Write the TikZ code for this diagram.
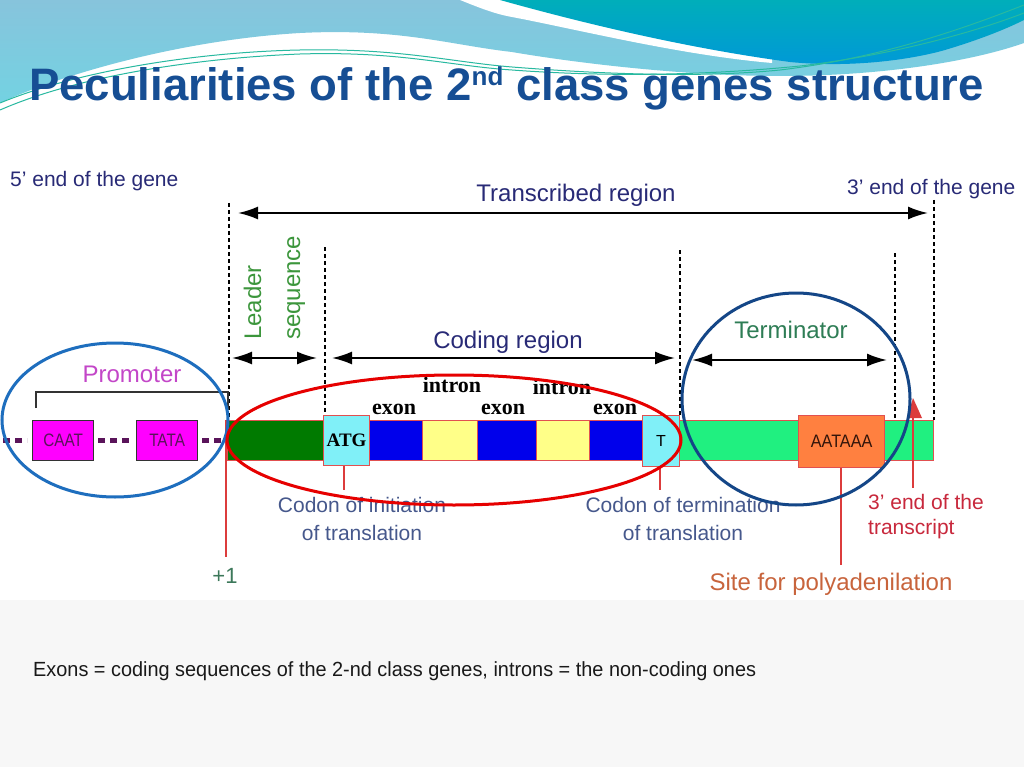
\documentclass[tikz,border=0pt]{standalone}
\usepackage{fontspec}
\setmainfont{Liberation Sans}
\newfontfamily\seriffont{Liberation Serif}
\usetikzlibrary{arrows.meta}
\definecolor{titleblue}{RGB}{22,78,148}
\definecolor{navy}{RGB}{40,42,118}
\definecolor{slate}{RGB}{70,88,140}
\definecolor{leadgreen}{RGB}{60,150,60}
\definecolor{termgreen}{RGB}{46,125,85}
\definecolor{promag}{RGB}{195,70,200}
\definecolor{plusgreen}{RGB}{60,120,90}
\definecolor{trred}{RGB}{200,40,60}
\definecolor{polyor}{RGB}{200,100,60}
\definecolor{leadseg}{RGB}{0,122,0}
\definecolor{atgcyan}{RGB}{128,240,248}
\definecolor{exonblue}{RGB}{0,0,235}
\definecolor{intronyel}{RGB}{255,255,136}
\definecolor{springg}{RGB}{32,240,128}
\definecolor{aorange}{RGB}{255,128,64}
\definecolor{boxred}{RGB}{225,80,80}
\definecolor{magbox}{RGB}{255,0,255}
\definecolor{magtext}{RGB}{90,20,90}
\definecolor{ellblue}{RGB}{30,110,190}
\definecolor{ellred}{RGB}{230,0,0}
\definecolor{ellnavy}{RGB}{20,70,135}
\definecolor{lightblA}{RGB}{135,196,220}
\definecolor{lightblB}{RGB}{115,210,226}
\definecolor{tealA}{RGB}{0,174,186}
\definecolor{blueB}{RGB}{0,152,216}
\definecolor{wavegreen}{RGB}{40,185,160}
\definecolor{pointred}{RGB}{220,60,60}
\begin{document}
\begin{tikzpicture}[x=1pt,y=-1pt,
  tip/.tip={Latex[length=20pt,width=13pt]},
  dimline/.style={line width=2pt, black, {tip}-{tip}},
  guide/.style={line width=1.8pt, black, dash pattern=on 4pt off 3pt},
  seg/.style={draw=boxred, line width=1pt, inner sep=0pt, minimum height=40pt, anchor=north west},
  tallbox/.style={draw=boxred, line width=1.2pt, inner sep=0pt, anchor=north west},
  pbox/.style={draw=black!80, line width=1.2pt, fill=magbox, inner sep=0pt, minimum width=61pt, minimum height=40pt, anchor=north west, text=magtext, font=\fontsize{18}{20}\selectfont},
  pdash/.style={line width=5pt, color=magtext, dash pattern=on 7pt off 5pt},
  pointer/.style={draw=pointred, line width=1.5pt},
  lbl/.style={inner sep=0pt, font=\fontsize{21}{28}\selectfont},
  biglbl/.style={inner sep=0pt, font=\fontsize{24}{28}\selectfont},
  serifb/.style={inner sep=0pt, font=\seriffont\bfseries\fontsize{22}{24}\selectfont},
  ring/.style={line width=3pt}
]
\useasboundingbox (0,0) rectangle (1024,767);
% background
\fill[white] (0,0) rectangle (1024,767);
\fill[black!3] (0,600) rectangle (1024,767);
\shade[top color=lightblA, bottom color=lightblB]
  (0,0) -- (1024,0) -- (1024,43)
  .. controls (970,62) and (880,76) .. (780,76)
  .. controls (680,76) and (570,62) .. (512,52)
  .. controls (450,45) and (400,28) .. (300,33)
  .. controls (180,40) and (60,75) .. (0,103) -- cycle;
\fill[white] (460,0) .. controls (480,8) and (495,14) .. (512,17)
  .. controls (580,30) and (680,55) .. (772,63) -- (772,0) -- cycle;
\shade[top color=tealA, bottom color=blueB]
  (500,0) .. controls (600,28) and (700,50) .. (790,62)
  .. controls (850,68) and (910,60) .. (945,50)
  .. controls (985,38) and (1010,27) .. (1024,20) -- (1024,0) -- cycle;
\draw[wavegreen, line width=1pt] (0,103) .. controls (80,70) and (200,52) .. (300,50)
  .. controls (400,48) and (450,62) .. (512,67)
  .. controls (600,74) and (700,78) .. (780,70)
  .. controls (880,58) and (960,30) .. (1024,5);
\draw[wavegreen, line width=1pt] (0,110) .. controls (80,75) and (200,58) .. (300,54)
  .. controls (400,51) and (450,66) .. (512,70)
  .. controls (620,78) and (720,74) .. (800,66)
  .. controls (900,54) and (980,30) .. (1024,13);
% title
\node[anchor=base west, inner sep=0pt, text=titleblue, font=\fontsize{45.5}{50}\selectfont\bfseries] (title) at (29,101)
  {Peculiarities of the 2\raisebox{15pt}{\fontsize{26}{28}\selectfont nd} class genes structure};
% top labels
\node[lbl, anchor=base west, text=navy] (fivep) at (10,187) {5’ end of the gene};
\node[lbl, anchor=base west, text=navy] (threep) at (847,195) {3’ end of the gene};
\node[biglbl, anchor=base, text=navy] (transcr) at (576,202) {Transcribed region};
\node[biglbl, anchor=base, text=navy] (codreg) at (508,348) {Coding region};
\node[biglbl, anchor=base, text=termgreen] (termlbl) at (791,338) {Terminator};
\node[biglbl, anchor=base, text=promag] (promlbl) at (132,382) {Promoter};
\node[biglbl, anchor=base west, rotate=90, text=leadgreen] (leader) at (261,340) {Leader};
\node[biglbl, anchor=base west, rotate=90, text=leadgreen] (sequ) at (300,340) {sequence};
% guides
\coordinate (g1t) at (229,203); \coordinate (g1b) at (229,420);
\coordinate (g2t) at (325,247); \coordinate (g2b) at (325,415);
\coordinate (g3t) at (680,250); \coordinate (g3b) at (680,415);
\coordinate (g4t) at (895,253); \coordinate (g4b) at (895,418);
\coordinate (g5t) at (934,200); \coordinate (g5b) at (934,420);
\draw[guide] (g1t) -- (g1b);
\draw[guide] (g2t) -- (g2b);
\draw[guide] (g3t) -- (g3b);
\draw[guide] (g4t) -- (g4b);
\draw[guide] (g5t) -- (g5b);
% dimension arrows
\coordinate (trL) at (238,213); \coordinate (trR) at (928,213);
\coordinate (leL) at (232,358); \coordinate (leR) at (317,358);
\coordinate (coL) at (332,358); \coordinate (coR) at (675,358);
\coordinate (teL) at (692,360); \coordinate (teR) at (887,360);
\draw[dimline] (trL) -- (trR);
\draw[dimline] (leL) -- (leR);
\draw[dimline] (coL) -- (coR);
\draw[dimline] (teL) -- (teR);
% promoter
\coordinate (brA) at (36,408); \coordinate (brB) at (36,392);
\coordinate (brC) at (228,392); \coordinate (brD) at (228,410);
\draw[black!80, line width=1.5pt] (brA) -- (brB) -- (brC) -- (brD);
\node[pbox] (caat) at (32,420) {\scalebox{0.85}[1]{CAAT}};
\node[pbox] (tata) at (136,420) {\scalebox{0.85}[1]{TATA}};
\coordinate (d1a) at (3,440); \coordinate (d1b) at (27,440);
\coordinate (d3a) at (202,440); \coordinate (d3b) at (222,440);
\draw[pdash] (d1a) -- (d1b);
\draw[pdash, shorten <=4pt, shorten >=6pt] (caat.east) -- (tata.west);
\draw[pdash] (d3a) -- (d3b);
% gene bar
\node[seg, fill=leadseg, minimum width=96pt] (lead) at (227,420) {};
\node[seg, fill=springg, minimum width=254pt] (tail) at (679,420) {};
\node[seg, fill=exonblue, minimum width=53pt] (ex1) at (369,420) {};
\node[seg, fill=intronyel, minimum width=55pt] (in1) at (422,420) {};
\node[seg, fill=exonblue, minimum width=59pt] (ex2) at (477,420) {};
\node[seg, fill=intronyel, minimum width=53pt] (in2) at (536,420) {};
\node[seg, fill=exonblue, minimum width=53pt] (ex3) at (589,420) {};
\node[tallbox, fill=atgcyan, minimum width=46pt, minimum height=50pt, font=\seriffont\bfseries\fontsize{19}{20}\selectfont] (atg) at (323,415) {ATG};
\node[tallbox, fill=atgcyan, minimum width=37pt, minimum height=51pt, font=\fontsize{16}{18}\selectfont] (stop) at (642,415) {T};
\node[tallbox, fill=aorange, minimum width=86pt, minimum height=52pt, text={rgb,255:red,50;green,20;blue,10}, font=\fontsize{18}{20}\selectfont] (aataaa) at (798,415) {\scalebox{0.9}[1]{AATAAA}};
% exon / intron labels
\node[serifb, anchor=base] (e1) at (394,414) {exon};
\node[serifb, anchor=base] (e2) at (503,414) {exon};
\node[serifb, anchor=base] (e3) at (615,414) {exon};
\node[serifb, anchor=base] (i1) at (452,392) {intron};
\node[serifb, anchor=base] (i2) at (562,394) {intron};
% flag at 3' end of transcript
\fill[pointred] (913,398) -- (922,418) -- (907,418) -- cycle;
% pointers
\coordinate (p1) at (226,557); \coordinate (p1t) at (226,420);
\coordinate (p2) at (344,490);
\coordinate (p3) at (660,490);
\coordinate (p4) at (841,565);
\coordinate (p5t) at (913,418); \coordinate (p5) at (913,488);
\draw[pointer] (p1t) -- (p1);
\draw[pointer] (atg.south -| p2) -- (p2);
\draw[pointer] (stop.south -| p3) -- (p3);
\draw[pointer] (aataaa.south -| p4) -- (p4);
\draw[pointer] (p5t) -- (p5);
% lower labels
\node[lbl, anchor=base, text=plusgreen, font=\fontsize{22}{24}\selectfont] (plus1) at (225,583) {+1};
\node[lbl, anchor=base, text=slate] (init1) at (362,512) {Codon of initiation};
\node[lbl, anchor=base, text=slate] (init2) at (362,540) {of translation};
\node[lbl, anchor=base, text=slate] (term1) at (683,512) {Codon of termination};
\node[lbl, anchor=base, text=slate] (term2) at (683,540) {of translation};
\node[lbl, anchor=base west, text=trred] (tr1) at (868,509) {3’ end of the};
\node[lbl, anchor=base west, text=trred] (tr2) at (868,534) {transcript};
\node[biglbl, anchor=base, text=polyor] (poly) at (831,590) {Site for polyadenilation};
% rings
\draw[ring, ellblue] (115,420) ellipse [x radius=113, y radius=77];
\draw[ring, ellred] (454,440) ellipse [x radius=227, y radius=65];
\draw[ring, ellnavy] (796,399) ellipse [x radius=114, y radius=106];
% footnote
\node[anchor=base west, inner sep=0pt, text=black!90, font=\fontsize{20.5}{24}\selectfont] (foot) at (33,676)
  {\scalebox{0.97}[1]{Exons = coding sequences of the 2-nd class genes, introns = the non-coding ones}};
\end{tikzpicture}
\end{document}
